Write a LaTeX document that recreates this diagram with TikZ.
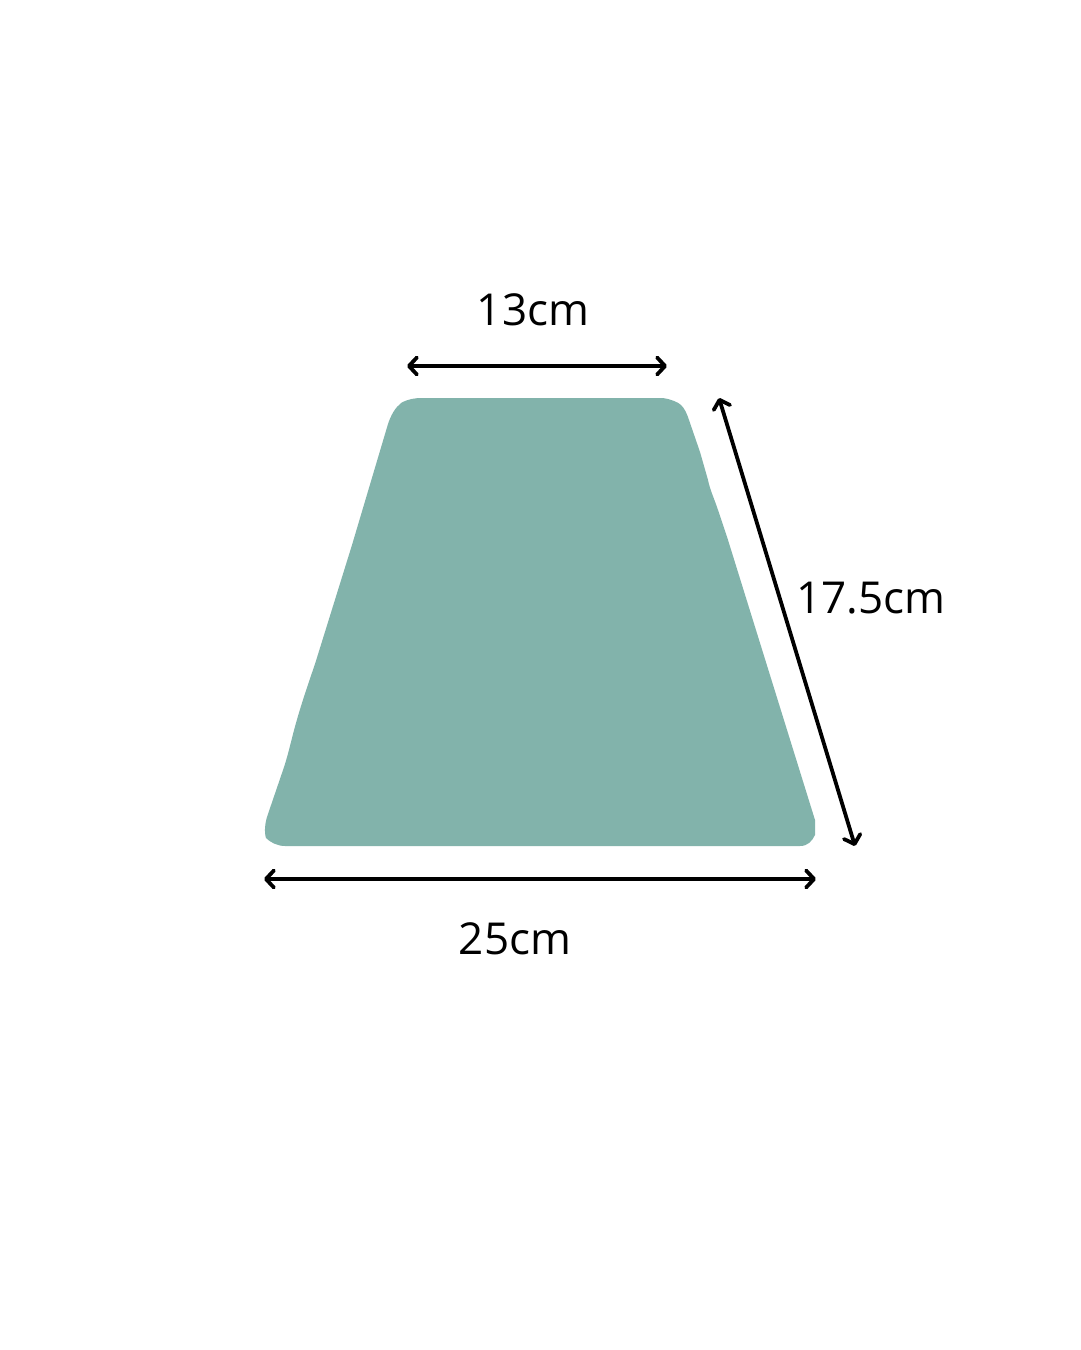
\documentclass[tikz,border=0pt]{standalone}
\usepackage{fontspec}
\setmainfont{Open Sans}
\usetikzlibrary{arrows.meta}
\definecolor{sage}{HTML}{82B3AB}
\tikzset{
  dim/.style={line width=3.8pt, line cap=round, {Straight Barb[length=8pt,width=17pt,line cap=round,line join=round]}-{Straight Barb[length=8pt,width=17pt,line cap=round,line join=round]}},
  lbl/.style={font=\fontsize{44}{52}\selectfont, inner sep=0pt, text=black}
}
\begin{document}
\begin{tikzpicture}[x=1pt,y=-1pt]
\useasboundingbox (0,0) rectangle (1080,1350);
\fill[white] (0,0) rectangle (1080,1350);
% shape
\fill[sage] (401,403) .. controls (408,399) and (415,398) .. (422,398)
  -- (663,398) .. controls (670,399) and (678,402) .. (681,405)
  .. controls (685,409) and (687,414) .. (689,420)
  -- (700,452) -- (708,480) .. controls (710,490) and (714,498) .. (718,510)
  -- (728,540) -- (815,820) -- (815,835)
  .. controls (812,841) and (808,846) .. (800,846)
  -- (285,846) .. controls (277,846) and (270,842) .. (266,838)
  .. controls (264,832) and (265,822) .. (268,814)
  -- (282,773) .. controls (286,762) and (289,750) .. (292,738)
  .. controls (298,714) and (306,690) .. (315,664)
  -- (352,545) -- (388,424)
  .. controls (391,415) and (395,408) .. (401,403) -- cycle;
% coordinates
\coordinate (tl) at (407,366);
\coordinate (tr) at (667,366);
\coordinate (bl) at (264,879);
\coordinate (br) at (816,879);
\coordinate (dt) at (719,398);
\coordinate (db) at (855,846);
\draw[dim] (tl) -- (tr);
\draw[dim] (bl) -- (br);
\draw[dim] (dt) -- (db);
\node[lbl] (t13) at (533,310) {13cm};
\node[lbl] (t25) at (515,939) {25cm};
\node[lbl] (t175) at (871,598) {17.5cm};
\end{tikzpicture}
\end{document}
